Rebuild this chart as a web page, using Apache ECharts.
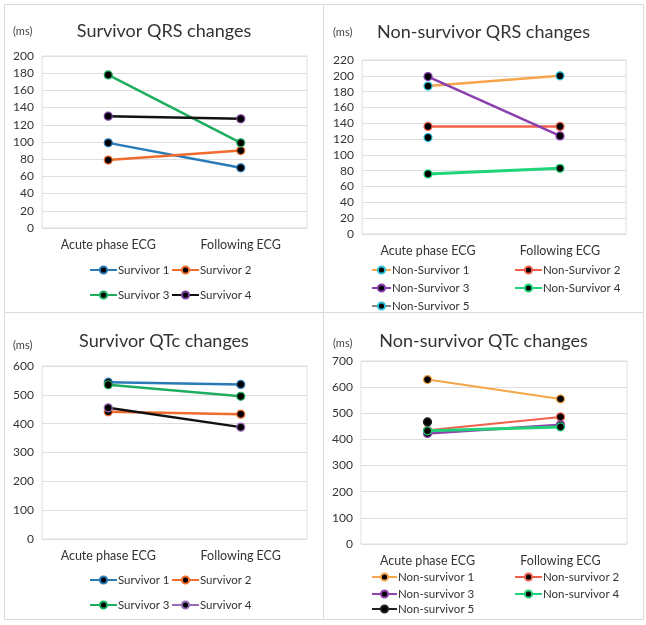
<!DOCTYPE html>
<html>
<head>
<meta charset="utf-8">
<script src="https://cdn.jsdelivr.net/npm/echarts@6/dist/echarts.min.js"></script>
<style>
  html, body { margin: 0; padding: 0; background: #fff; }
  .panel { position: absolute; box-sizing: border-box; border: 1px solid #dcdcdc; background: #fff; }
</style>
</head>
<body>
<div id="p1" class="panel" style="left:4px;top:4px;width:320px;height:309px"></div>
<div id="p2" class="panel" style="left:323px;top:4px;width:321px;height:309px"></div>
<div id="p3" class="panel" style="left:4px;top:312px;width:320px;height:308px"></div>
<div id="p4" class="panel" style="left:323px;top:312px;width:321px;height:308px"></div>
<script>
const categories = ['Acute phase ECG', 'Following ECG'];

// Survivor QRS (ms)
const survQrsNames = ['Survivor 1', 'Survivor 2', 'Survivor 3', 'Survivor 4'];
const survQrs1 = [99, 70];
const survQrs2 = [79, 90];
const survQrs3 = [178, 99];
const survQrs4 = [130, 127];

// Non-survivor QRS (ms)
const nonQrsNames = ['Non-Survivor 1', 'Non-Survivor 2', 'Non-Survivor 3', 'Non-Survivor 4', 'Non-Survivor 5'];
const nonQrs1 = [187, 200];
const nonQrs2 = [136, 136];
const nonQrs3 = [199, 124];
const nonQrs4 = [76, 83];
const nonQrs5 = [122, null];

// Survivor QTc (ms)
const survQtcNames = ['Survivor 1', 'Survivor 2', 'Survivor 3', 'Survivor 4'];
const survQtc1 = [544, 536];
const survQtc2 = [441, 433];
const survQtc3 = [535, 495];
const survQtc4 = [455, 388];

// Non-survivor QTc (ms)
const nonQtcNames = ['Non-survivor 1', 'Non-survivor 2', 'Non-survivor 3', 'Non-survivor 4', 'Non-survivor 5'];
const nonQtc1 = [629, 555];
const nonQtc2 = [435, 486];
const nonQtc3 = [423, 456];
const nonQtc4 = [433, 448];
const nonQtc5 = [467, null];

const FONT = 'Lato';
const TEXT = '#333';

function lineSeries(name, data, color, border, width) {
  return {
    name: name, type: 'line', data: data,
    symbol: 'circle', symbolSize: 8,
    lineStyle: { color: color, width: width || 2.5 },
    itemStyle: { color: '#000', borderColor: border || color, borderWidth: 1.2 },
    connectNulls: false, animation: false
  };
}

function legendItem(name, left, top, iw, lineColor) {
  const item = { name: name };
  if (lineColor) item.lineStyle = { color: lineColor };
  return {
    data: [item], left: left, top: top, itemWidth: iw, itemHeight: 9, padding: 0,
    selectedMode: false,
    textStyle: { fontFamily: FONT, fontSize: 11.5, color: TEXT, padding: [0, 0, 0, -4] }
  };
}

function makeChart(id, cfg) {
  const chart = echarts.init(document.getElementById(id), null, { renderer: 'canvas' });
  chart.setOption({
    animation: false,
    title: {
      text: cfg.title, left: 'center', top: cfg.titleTop,
      textStyle: { fontFamily: FONT, fontSize: 18, fontWeight: 'normal', color: '#333' }
    },
    graphic: [{
      type: 'text', left: cfg.msLeft, top: cfg.msTop,
      style: { text: '(ms)', fontFamily: FONT, fontSize: 11, fill: '#444' }
    }],
    grid: {
      left: cfg.grid[0], top: cfg.grid[1], width: cfg.grid[2], height: cfg.grid[3],
      show: true, borderColor: '#dedede', borderWidth: 1
    },
    xAxis: {
      type: 'category', data: categories, boundaryGap: true,
      axisLine: { show: false }, axisTick: { show: false },
      axisLabel: { fontFamily: FONT, fontSize: 12.5, color: TEXT, margin: 10 }
    },
    yAxis: {
      type: 'value', min: 0, max: cfg.max, interval: cfg.step,
      axisLine: { show: false }, axisTick: { show: false },
      splitLine: { lineStyle: { color: '#dedede' } },
      axisLabel: { fontFamily: FONT, fontSize: 12, color: TEXT, margin: 8 }
    },
    legend: cfg.legends,
    series: cfg.series
  });
}

makeChart('p1', {
  title: 'Survivor QRS changes', titleTop: 12, msLeft: 8, msTop: 21,
  grid: [37, 51, 265, 172], max: 200, step: 20,
  legends: [
    legendItem(survQrsNames[0], 84, 259, 27),
    legendItem(survQrsNames[1], 166, 259, 27),
    legendItem(survQrsNames[2], 84, 284, 27),
    legendItem(survQrsNames[3], 166, 284, 27)
  ],
  series: [
    lineSeries(survQrsNames[0], survQrs1, '#2a7ab8'),
    lineSeries(survQrsNames[1], survQrs2, '#f06b2c'),
    lineSeries(survQrsNames[2], survQrs3, '#1fae5f'),
    lineSeries(survQrsNames[3], survQrs4, '#111111', '#7b3f9e')
  ]
});

makeChart('p2', {
  title: 'Non-survivor QRS changes', titleTop: 13, msLeft: 9, msTop: 22,
  grid: [38, 55, 264, 174], max: 220, step: 20,
  legends: [
    legendItem(nonQrsNames[0], 47, 259, 19),
    legendItem(nonQrsNames[1], 190, 259, 27),
    legendItem(nonQrsNames[2], 47, 277, 19),
    legendItem(nonQrsNames[3], 190, 277, 27),
    legendItem(nonQrsNames[4], 47, 295, 19)
  ],
  series: [
    lineSeries(nonQrsNames[0], nonQrs1, '#f7a54a', '#2bc4d8'),
    lineSeries(nonQrsNames[1], nonQrs2, '#f2604a'),
    lineSeries(nonQrsNames[2], nonQrs3, '#8a3fb0'),
    lineSeries(nonQrsNames[3], nonQrs4, '#1fd47a', null, 3),
    lineSeries(nonQrsNames[4], nonQrs5, '#888888', '#2bc4d8')
  ]
});

makeChart('p3', {
  title: 'Survivor QTc changes', titleTop: 14, msLeft: 8, msTop: 27,
  grid: [37, 53, 265, 173], max: 600, step: 100,
  legends: [
    legendItem(survQtcNames[0], 84, 261, 27),
    legendItem(survQtcNames[1], 166, 261, 27),
    legendItem(survQtcNames[2], 84, 286, 27),
    legendItem(survQtcNames[3], 166, 286, 27, '#9a6bb8')
  ],
  series: [
    lineSeries(survQtcNames[0], survQtc1, '#2a7ab8'),
    lineSeries(survQtcNames[1], survQtc2, '#f06b2c'),
    lineSeries(survQtcNames[2], survQtc3, '#1fae5f'),
    lineSeries(survQtcNames[3], survQtc4, '#111111', '#9a6bb8')
  ]
});

makeChart('p4', {
  title: 'Non-survivor QTc changes', titleTop: 14, msLeft: 9, msTop: 25,
  grid: [37, 48, 266, 183], max: 700, step: 100,
  legends: [
    legendItem(nonQtcNames[0], 47, 258, 25),
    legendItem(nonQtcNames[1], 190, 258, 27),
    legendItem(nonQtcNames[2], 47, 275, 25),
    legendItem(nonQtcNames[3], 190, 275, 27),
    legendItem(nonQtcNames[4], 47, 290, 25)
  ],
  series: [
    lineSeries(nonQtcNames[0], nonQtc1, '#f5a54a', null, 2),
    lineSeries(nonQtcNames[1], nonQtc2, '#f0604a', null, 2),
    lineSeries(nonQtcNames[2], nonQtc3, '#8e44ad', null, 2.5),
    lineSeries(nonQtcNames[3], nonQtc4, '#22d07a', null, 3),
    lineSeries(nonQtcNames[4], nonQtc5, '#222222')
  ]
});
</script>
</body>
</html>
